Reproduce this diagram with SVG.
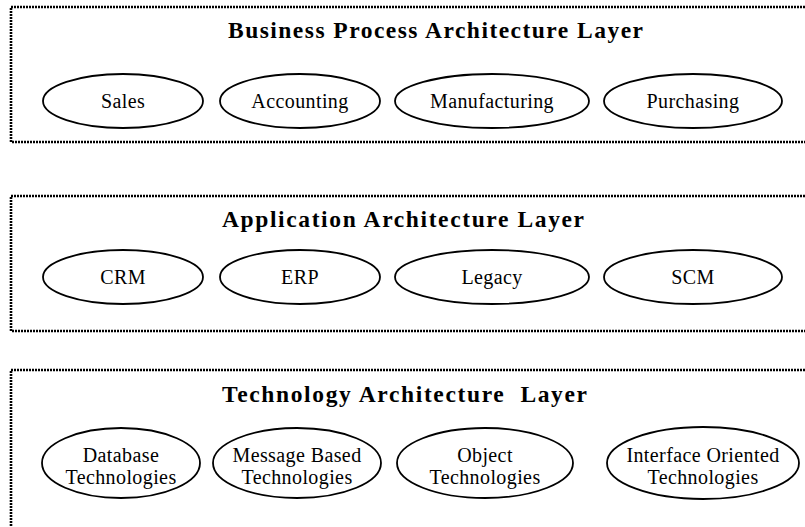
<svg xmlns="http://www.w3.org/2000/svg" width="805" height="527" viewBox="0 0 805 527">
  <style>
    .layer { fill: none; stroke: #000; stroke-width: 2.6; stroke-dasharray: 2 1; }
    .node ellipse { fill: #fff; stroke: #000; stroke-width: 1.8; }
    .title { font-family: "Liberation Serif", "Times New Roman", serif; font-weight: bold; font-size: 23.5px; fill: #000; }
    .label { font-family: "Liberation Serif", "Times New Roman", serif; font-size: 20px; letter-spacing: 0.4px; fill: #000; text-anchor: middle; }
  </style>
  <rect width="805" height="527" fill="#fff"/>

  <!-- Business process layer -->
  <g id="business-layer">
    <rect class="layer" x="11" y="7" width="810" height="135"/>
    <text class="title" x="228" y="38" textLength="415" lengthAdjust="spacing">Business Process Architecture Layer</text>
  </g>
  <g id="sales" class="node">
    <ellipse cx="123" cy="101" rx="80" ry="27"/>
    <text class="label" x="123" y="108">Sales</text>
  </g>
  <g id="accounting" class="node">
    <ellipse cx="300" cy="101" rx="80" ry="27"/>
    <text class="label" x="300" y="108">Accounting</text>
  </g>
  <g id="manufacturing" class="node">
    <ellipse cx="492" cy="101" rx="97" ry="27"/>
    <text class="label" x="492" y="108">Manufacturing</text>
  </g>
  <g id="purchasing" class="node">
    <ellipse cx="693" cy="101" rx="89" ry="27"/>
    <text class="label" x="693" y="108">Purchasing</text>
  </g>

  <!-- Application layer -->
  <g id="application-layer">
    <rect class="layer" x="11" y="196" width="810" height="135"/>
    <text class="title" x="222" y="227" textLength="362" lengthAdjust="spacing">Application Architecture Layer</text>
  </g>
  <g id="crm" class="node">
    <ellipse cx="123" cy="277" rx="80" ry="27"/>
    <text class="label" x="123" y="284">CRM</text>
  </g>
  <g id="erp" class="node">
    <ellipse cx="300" cy="277" rx="80" ry="27"/>
    <text class="label" x="300" y="284">ERP</text>
  </g>
  <g id="legacy" class="node">
    <ellipse cx="492" cy="277" rx="97" ry="27"/>
    <text class="label" x="492" y="284">Legacy</text>
  </g>
  <g id="scm" class="node">
    <ellipse cx="693" cy="277" rx="89" ry="27"/>
    <text class="label" x="693" y="284">SCM</text>
  </g>

  <!-- Technology layer -->
  <g id="technology-layer">
    <rect class="layer" x="11" y="370" width="810" height="180"/>
    <text class="title" x="222" y="402" textLength="365" lengthAdjust="spacing" xml:space="preserve">Technology Architecture  Layer</text>
  </g>
  <g id="database-tech" class="node">
    <ellipse cx="121" cy="463" rx="79" ry="35"/>
    <text class="label" x="121" y="462">Database</text>
    <text class="label" x="121" y="484">Technologies</text>
  </g>
  <g id="message-tech" class="node">
    <ellipse cx="297" cy="463" rx="84" ry="35"/>
    <text class="label" x="297" y="462">Message Based</text>
    <text class="label" x="297" y="484">Technologies</text>
  </g>
  <g id="object-tech" class="node">
    <ellipse cx="485" cy="463" rx="88" ry="35"/>
    <text class="label" x="485" y="462">Object</text>
    <text class="label" x="485" y="484">Technologies</text>
  </g>
  <g id="interface-tech" class="node">
    <ellipse cx="703" cy="463" rx="96" ry="36"/>
    <text class="label" x="703" y="462">Interface Oriented</text>
    <text class="label" x="703" y="484">Technologies</text>
  </g>

  <!-- no connectors between layers -->
  <g id="connectors"/>
</svg>
